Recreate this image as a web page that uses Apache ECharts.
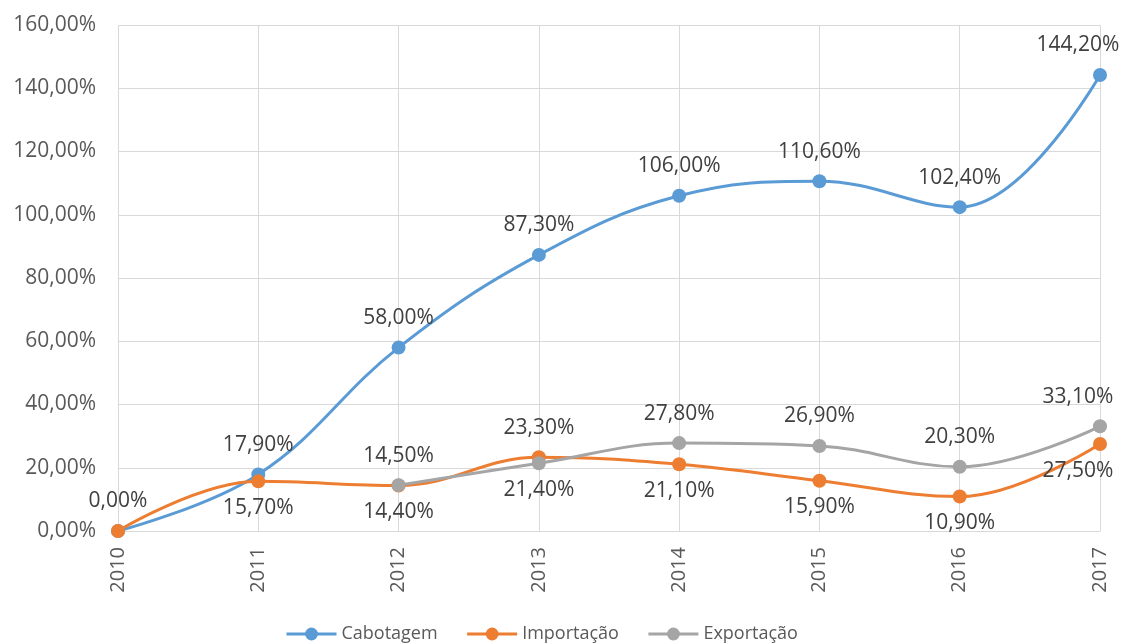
<!DOCTYPE html>
<html>
<head>
<meta charset="utf-8">
<script src="https://cdn.jsdelivr.net/npm/echarts@6/dist/echarts.min.js"></script>
<style>
  html, body { margin: 0; padding: 0; background: #ffffff; }
  #chart { width: 1123px; height: 644px; }
</style>
</head>
<body>
<div id="chart"></div>
<script>
// Anos
const years = ['2010', '2011', '2012', '2013', '2014', '2015', '2016', '2017'];

// Crescimento acumulado (%)
const cabotagem  = [0.0, 17.9, 58.0, 87.3, 106.0, 110.6, 102.4, 144.2];
const importacao = [0.0, 15.7, 14.4, 23.3, 21.1, 15.9, 10.9, 27.5];
const exportacao = [null, null, 14.5, 21.4, 27.8, 26.9, 20.3, 33.1];

// Escala do eixo Y
const yMin = 0;
const yMax = 160;
const yStep = 20;

// Posição dos rótulos de cada ponto (null = sem rótulo)
const cabotagemLabelPos  = ['top', 'top', 'top', 'top', 'top', 'top', 'top', 'top'];
const importacaoLabelPos = [null, 'bottom', 'bottom', 'top', 'bottom', 'bottom', 'bottom', 'bottom'];
const exportacaoLabelPos = [null, null, 'top', 'bottom', 'top', 'top', 'top', 'top'];

const fmtPct = v => v.toFixed(2).replace('.', ',') + '%';

function buildData(values, positions) {
  return values.map((v, i) => {
    if (v === null) return null;
    const pos = positions[i];
    const last = i === values.length - 1;
    return {
      value: v,
      label: {
        show: pos !== null,
        position: pos || 'top',
        distance: pos === 'bottom' ? 9 : 12,
        offset: last ? [-22, 0] : [0, 0]
      }
    };
  });
}

function makeSeries(name, values, positions, color) {
  return {
    name: name,
    type: 'line',
    smooth: 0.4,
    data: buildData(values, positions),
    symbol: 'circle',
    symbolSize: 14,
    lineStyle: { color: color, width: 3 },
    itemStyle: { color: color },
    label: {
      fontFamily: 'Open Sans',
      fontSize: 21,
      color: '#404040',
      formatter: p => fmtPct(p.value)
    },
    emphasis: { disabled: true }
  };
}

const chart = echarts.init(document.getElementById('chart'), null, { renderer: 'canvas' });

chart.setOption({
  animation: false,
  backgroundColor: '#ffffff',
  textStyle: { fontFamily: 'Open Sans' },
  grid: { left: 118, right: 23, top: 25, bottom: 113, containLabel: false },
  legend: {
    left: 280,
    top: 620,
    itemWidth: 50,
    itemHeight: 16,
    itemGap: 28,
    lineStyle: { width: 3 },
    textStyle: { fontFamily: 'Open Sans', fontSize: 18, color: '#595959' },
    data: ['Cabotagem', 'Importação', 'Exportação']
  },
  xAxis: {
    type: 'category',
    data: years,
    boundaryGap: false,
    axisLine: { show: true, lineStyle: { color: '#d9d9d9', width: 1 } },
    axisTick: { show: false },
    splitLine: { show: true, lineStyle: { color: '#d9d9d9', width: 1 } },
    axisLabel: {
      rotate: 90,
      margin: 16,
      fontFamily: 'Open Sans',
      fontSize: 20,
      color: '#595959'
    }
  },
  yAxis: {
    type: 'value',
    min: yMin,
    max: yMax,
    interval: yStep,
    axisLine: { show: false },
    axisTick: { show: false },
    splitLine: { show: true, lineStyle: { color: '#d9d9d9', width: 1 } },
    axisLabel: {
      margin: 22,
      fontFamily: 'Open Sans',
      fontSize: 21,
      color: '#595959',
      formatter: v => fmtPct(v)
    }
  },
  series: [
    makeSeries('Cabotagem', cabotagem, cabotagemLabelPos, '#5b9bd5'),
    makeSeries('Importação', importacao, importacaoLabelPos, '#ed7d31'),
    makeSeries('Exportação', exportacao, exportacaoLabelPos, '#a5a5a5')
  ]
});
</script>
</body>
</html>
